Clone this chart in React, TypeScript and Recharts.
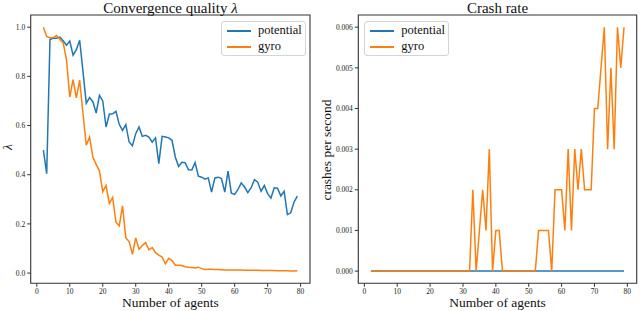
import { LineChart, Line, XAxis, YAxis, ReferenceArea } from "recharts";

const SERIF = '"Liberation Serif", "DejaVu Serif", serif';
const BLUE = "#1f77b4";
const ORANGE = "#ff7f0e";

// number of agents, 2..79
const agents = [
  2, 3, 4, 5, 6, 7, 8, 9, 10, 11, 12, 13, 14, 15, 16, 17, 18, 19, 20, 21,
  22, 23, 24, 25, 26, 27, 28, 29, 30, 31, 32, 33, 34, 35, 36, 37, 38, 39, 40,
  41, 42, 43, 44, 45, 46, 47, 48, 49, 50, 51, 52, 53, 54, 55, 56, 57, 58, 59,
  60, 61, 62, 63, 64, 65, 66, 67, 68, 69, 70, 71, 72, 73, 74, 75, 76, 77, 78,
  79,
];

const potentialQuality = [
  0.5, 0.404, 0.95, 0.955, 0.955, 0.96, 0.945, 0.927, 0.944, 0.886, 0.909,
  0.947, 0.82, 0.69, 0.714, 0.697, 0.651, 0.723, 0.7, 0.594, 0.646, 0.648,
  0.658, 0.605, 0.58, 0.604, 0.533, 0.518, 0.567, 0.594, 0.556, 0.56, 0.553,
  0.532, 0.55, 0.445, 0.556, 0.553, 0.55, 0.54, 0.472, 0.434, 0.451, 0.449,
  0.42, 0.419, 0.449, 0.394, 0.39, 0.382, 0.387, 0.329, 0.387, 0.39, 0.384,
  0.329, 0.415, 0.325, 0.32, 0.34, 0.367, 0.35, 0.327, 0.347, 0.38, 0.37,
  0.333, 0.356, 0.323, 0.305, 0.347, 0.345, 0.314, 0.333, 0.238, 0.245, 0.288,
  0.313,
];

const gyroQuality = [
  1.0, 0.962, 0.956, 0.958, 0.966, 0.95, 0.936, 0.868, 0.716, 0.787, 0.713,
  0.785, 0.65, 0.52, 0.553, 0.472, 0.442, 0.416, 0.331, 0.356, 0.283, 0.308,
  0.207, 0.192, 0.273, 0.143, 0.128, 0.076, 0.143, 0.097, 0.112, 0.124, 0.094,
  0.104, 0.083, 0.073, 0.065, 0.038, 0.06, 0.051, 0.032, 0.032, 0.031, 0.026,
  0.024, 0.023, 0.021, 0.024, 0.018, 0.015, 0.016, 0.016, 0.015, 0.015, 0.014,
  0.013, 0.013, 0.012, 0.012, 0.012, 0.012, 0.011, 0.011, 0.011, 0.011, 0.011,
  0.01, 0.01, 0.01, 0.01, 0.01, 0.009, 0.009, 0.009, 0.009, 0.008, 0.008,
  0.009,
];

const potentialCrash = [
  0, 0, 0, 0, 0, 0, 0, 0, 0, 0, 0, 0, 0, 0, 0, 0, 0, 0, 0, 0, 0, 0, 0, 0, 0,
  0, 0, 0, 0, 0, 0, 0, 0, 0, 0, 0, 0, 0, 0, 0, 0, 0, 0, 0, 0, 0, 0, 0, 0, 0,
  0, 0, 0, 0, 0, 0, 0, 0, 0, 0, 0, 0, 0, 0, 0, 0, 0, 0, 0, 0, 0, 0, 0, 0, 0,
  0, 0, 0,
];

const gyroCrash = [
  0, 0, 0, 0, 0, 0, 0, 0, 0, 0, 0, 0, 0, 0, 0, 0, 0, 0, 0, 0, 0, 0, 0, 0, 0,
  0, 0, 0, 0, 0, 0, 0.002, 0, 0.001, 0.002, 0.001, 0.003, 0, 0.001, 0.001, 0,
  0, 0, 0, 0, 0, 0, 0, 0, 0, 0, 0.001, 0.001, 0.001, 0.001, 0, 0.002, 0.002,
  0.002, 0.001, 0.003, 0.001, 0.003, 0.002, 0.003, 0.002, 0.002, 0.002, 0.004,
  0.004, 0.005, 0.006, 0.003, 0.005, 0.003, 0.006, 0.005, 0.006,
];

const xTicks = [0, 10, 20, 30, 40, 50, 60, 70, 80];
const qualityTicks = [0, 0.2, 0.4, 0.6, 0.8, 1.0];
const crashTicks = [0, 0.001, 0.002, 0.003, 0.004, 0.005, 0.006];
const seriesNames = ["potential", "gyro"];
const seriesColors = [BLUE, ORANGE];

const qualityData = agents.map((n, i) => ({
  n,
  potential: potentialQuality[i],
  gyro: gyroQuality[i],
}));
const crashData = agents.map((n, i) => ({
  n,
  potential: potentialCrash[i],
  gyro: gyroCrash[i],
}));

const X_DOMAIN = [-1.85, 82.85];
const Q_DOMAIN = [-0.0416, 1.0496];
const C_DOMAIN = [-0.0003, 0.0063];

const tickStyle = { fontSize: 7.5, fill: "#222", fontFamily: SERIF };

function LegendBox({ left, top }: { left: number; top: number }) {
  return (
    <div
      style={{
        position: "absolute",
        left,
        top,
        width: 85,
        height: 35,
        boxSizing: "border-box",
        border: "1px solid #d4d4d4",
        borderRadius: 3,
        background: "rgba(255,255,255,0.8)",
        fontFamily: SERIF,
        fontSize: 12.5,
        color: "#111",
      }}
    >
      {seriesNames.map((name, i) => (
        <div
          key={name}
          style={{ position: "absolute", left: 0, top: 1 + i * 16.4, height: 16, width: 85 }}
        >
          <div
            style={{
              position: "absolute",
              left: 5,
              top: 7,
              width: 24,
              height: 2,
              background: seriesColors[i],
            }}
          />
          <span style={{ position: "absolute", left: 36, top: 0, lineHeight: "15px" }}>
            {name}
          </span>
        </div>
      ))}
    </div>
  );
}

function Caption({
  x,
  y,
  size,
  rotate,
  children,
}: {
  x: number;
  y: number;
  size: number;
  rotate?: boolean;
  children: React.ReactNode;
}) {
  return (
    <div
      style={{
        position: "absolute",
        left: x,
        top: y,
        transform: `translate(-50%, -50%)${rotate ? " rotate(-90deg)" : ""}`,
        whiteSpace: "nowrap",
        fontFamily: SERIF,
        fontSize: size,
        color: "#111",
        lineHeight: 1,
      }}
    >
      {children}
    </div>
  );
}

export default function App() {
  return (
    <div
      style={{
        position: "absolute",
        left: 0,
        top: 0,
        width: 640,
        height: 311,
        background: "#fff",
        overflow: "hidden",
        fontFamily: SERIF,
      }}
    >
      <div style={{ position: "absolute", left: 0, top: 0 }}>
        <LineChart
          width={320}
          height={311}
          data={qualityData}
          margin={{ top: 15, right: 10, bottom: 0, left: 0 }}
          style={{ fontFamily: SERIF }}
        >
          <XAxis
            dataKey="n"
            type="number"
            domain={X_DOMAIN}
            ticks={xTicks}
            interval={0}
            allowDataOverflow
            height={27.7}
            axisLine={false}
            tickLine={{ stroke: "#333" }}
            tickSize={3.5}
            tick={tickStyle}
          />
          <YAxis
            type="number"
            domain={Q_DOMAIN}
            ticks={qualityTicks}
            interval={0}
            allowDataOverflow
            width={30.7}
            axisLine={false}
            tickLine={{ stroke: "#333" }}
            tickSize={3.5}
            tick={tickStyle}
            tickFormatter={(v: number) => v.toFixed(1)}
          />
          <ReferenceArea
            x1={X_DOMAIN[0]}
            x2={X_DOMAIN[1]}
            y1={Q_DOMAIN[0]}
            y2={Q_DOMAIN[1]}
            fill="none"
            stroke="#333"
            strokeWidth={1.1}
            ifOverflow="visible"
          />
          <Line
            dataKey="potential"
            type="linear"
            stroke={BLUE}
            strokeWidth={1.5}
            dot={false}
            isAnimationActive={false}
          />
          <Line
            dataKey="gyro"
            type="linear"
            stroke={ORANGE}
            strokeWidth={1.5}
            dot={false}
            isAnimationActive={false}
          />
        </LineChart>
      </div>
      <div style={{ position: "absolute", left: 320, top: 0 }}>
        <LineChart
          width={320}
          height={311}
          data={crashData}
          margin={{ top: 15, right: 3.3, bottom: 0, left: 0 }}
          style={{ fontFamily: SERIF }}
        >
          <XAxis
            dataKey="n"
            type="number"
            domain={X_DOMAIN}
            ticks={xTicks}
            interval={0}
            allowDataOverflow
            height={27.7}
            axisLine={false}
            tickLine={{ stroke: "#333" }}
            tickSize={3.5}
            tick={tickStyle}
          />
          <YAxis
            type="number"
            domain={C_DOMAIN}
            ticks={crashTicks}
            interval={0}
            allowDataOverflow
            width={38.3}
            axisLine={false}
            tickLine={{ stroke: "#333" }}
            tickSize={3.5}
            tick={tickStyle}
            tickFormatter={(v: number) => v.toFixed(3)}
          />
          <ReferenceArea
            x1={X_DOMAIN[0]}
            x2={X_DOMAIN[1]}
            y1={C_DOMAIN[0]}
            y2={C_DOMAIN[1]}
            fill="none"
            stroke="#333"
            strokeWidth={1.1}
            ifOverflow="visible"
          />
          <Line
            dataKey="potential"
            type="linear"
            stroke={BLUE}
            strokeWidth={1.5}
            dot={false}
            isAnimationActive={false}
          />
          <Line
            dataKey="gyro"
            type="linear"
            stroke={ORANGE}
            strokeWidth={1.5}
            dot={false}
            isAnimationActive={false}
          />
        </LineChart>
      </div>

      <Caption x={170.4} y={7.5} size={15}>
        Convergence quality <i>λ</i>
      </Caption>
      <Caption x={497.5} y={7.5} size={15}>
        Crash rate
      </Caption>
      <Caption x={170.4} y={303} size={13.5}>
        Number of agents
      </Caption>
      <Caption x={497.5} y={303} size={13.5}>
        Number of agents
      </Caption>
      <Caption x={7.5} y={147} size={13.5} rotate>
        <i>λ</i>
      </Caption>
      <Caption x={327} y={150} size={13.5} rotate>
        crashes per second
      </Caption>

      <LegendBox left={221} top={20.7} />
      <LegendBox left={364.3} top={21} />
    </div>
  );
}
